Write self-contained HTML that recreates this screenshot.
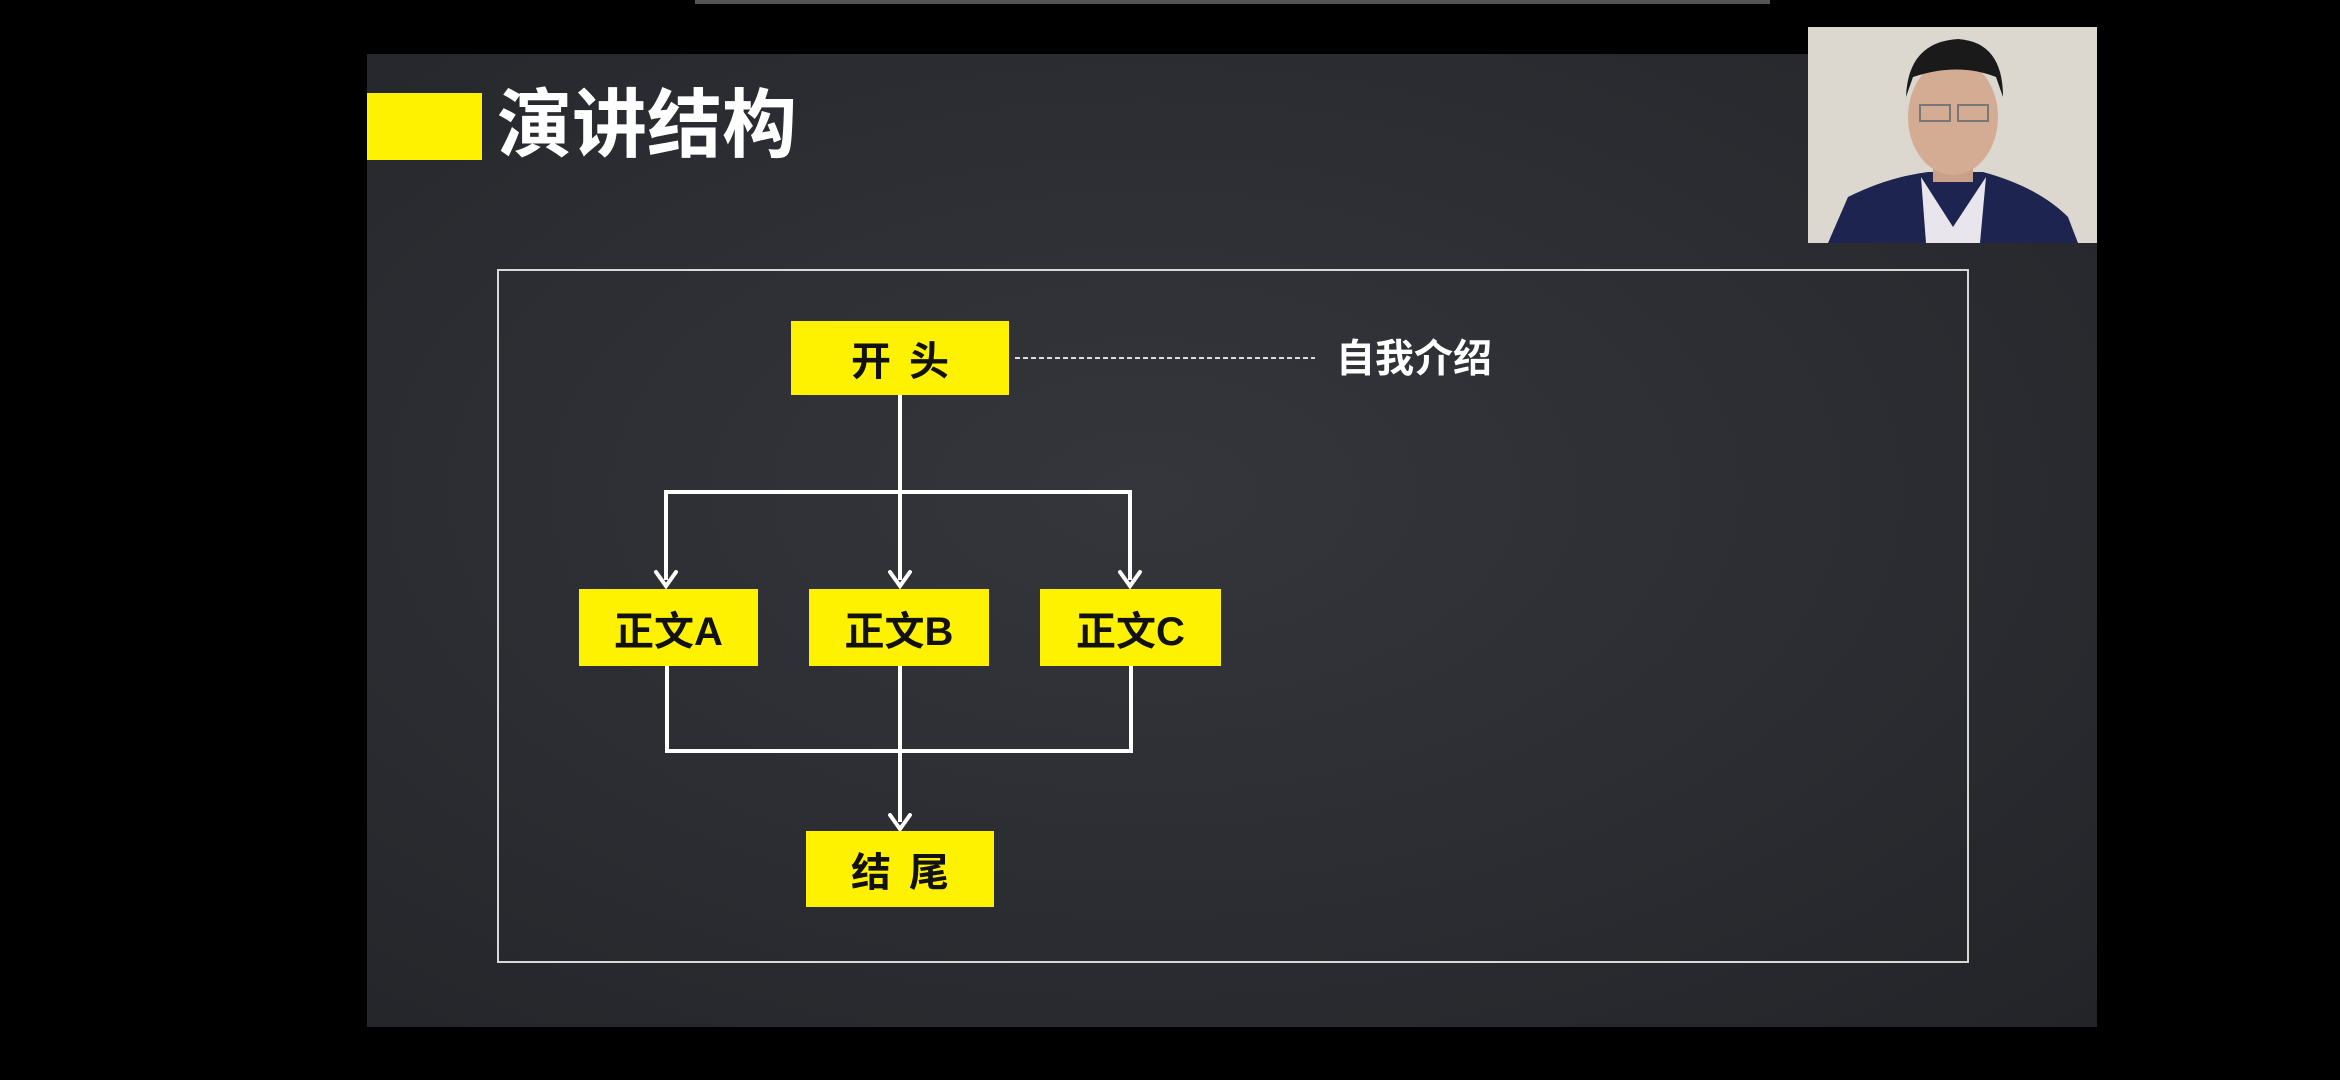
<!DOCTYPE html>
<html><head><meta charset="utf-8"><style>
html,body{margin:0;padding:0;background:#000;width:2340px;height:1080px;overflow:hidden;position:relative}
.slide{position:absolute;left:367px;top:54px;width:1730px;height:973px;background:radial-gradient(ellipse at 45% 45%,#34363c 0%,#2a2c31 60%,#232428 100%)}
.t{font-family:"Liberation Sans","Noto Sans CJK SC",sans-serif;font-weight:bold;position:absolute}
.box{position:absolute;background:#fff200;color:#111;display:flex;align-items:center;justify-content:center;font-size:40px}
</style></head><body>
<div style="position:absolute;left:695px;top:0;width:1075px;height:4px;background:#555"></div>
<div class="slide"></div>
<div style="position:absolute;left:367px;top:93px;width:115px;height:67px;background:#fff200"></div>
<div class="t" style="left:497px;top:82px;font-size:75px;color:#fff;line-height:86px">演讲结构</div>
<div style="position:absolute;left:497px;top:269px;width:1468px;height:690px;border:2px solid #d8d8d8"></div>
<svg style="position:absolute;left:0;top:0" width="2340" height="1080">
<g stroke="#fff" stroke-width="4" fill="none">
<line x1="900" y1="395" x2="900" y2="580"/>
<line x1="666" y1="492" x2="1130" y2="492"/>
<line x1="666" y1="490" x2="666" y2="580"/>
<line x1="1130" y1="490" x2="1130" y2="580"/>
<polyline points="667,666 667,751 1131,751 1131,666"/>
<line x1="900" y1="666" x2="900" y2="822"/>
</g>
<g stroke="#fff" stroke-width="4" fill="none" stroke-linecap="round">
<polyline points="656,572 666,586 676,572"/>
<polyline points="890,572 900,586 910,572"/>
<polyline points="1120,572 1130,586 1140,572"/>
<polyline points="890,815 900,829 910,815"/>
</g>
<line x1="1015" y1="358" x2="1315" y2="358" stroke="#ddd" stroke-width="2" stroke-dasharray="5,3"/>
</svg>
<div class="box t" style="left:791px;top:321px;width:218px;height:74px;letter-spacing:18px;padding-left:18px;box-sizing:border-box">开头</div>
<div class="box t" style="left:579px;top:589px;width:179px;height:77px">正文A</div>
<div class="box t" style="left:809px;top:589px;width:180px;height:77px">正文B</div>
<div class="box t" style="left:1040px;top:589px;width:181px;height:77px">正文C</div>
<div class="box t" style="left:806px;top:831px;width:188px;height:76px;letter-spacing:18px;padding-left:18px;box-sizing:border-box">结尾</div>
<div class="t" style="left:1336px;top:337px;font-size:39px;color:#fff;line-height:46px">自我介绍</div>
<svg style="position:absolute;left:1808px;top:27px" width="289" height="216" viewBox="0 0 289 216">
<rect width="289" height="216" fill="#ddd8cf"/>
<path d="M20 216 L40 170 Q80 150 120 145 L175 145 Q230 160 260 190 L270 216Z" fill="#1e2450"/>
<path d="M113 150 L145 200 L178 150 L172 216 L118 216Z" fill="#e8e6ec"/>
<rect x="125" y="110" width="40" height="45" fill="#c8a08a"/>
<ellipse cx="145" cy="90" rx="45" ry="58" fill="#d4ac94"/>
<path d="M98 70 Q100 15 150 12 Q195 15 195 70 L188 50 Q150 35 105 50Z" fill="#1a1a1a"/>
<rect x="112" y="78" width="30" height="16" fill="none" stroke="#777" stroke-width="2"/>
<rect x="150" y="78" width="30" height="16" fill="none" stroke="#777" stroke-width="2"/>
</svg>
</body></html>
